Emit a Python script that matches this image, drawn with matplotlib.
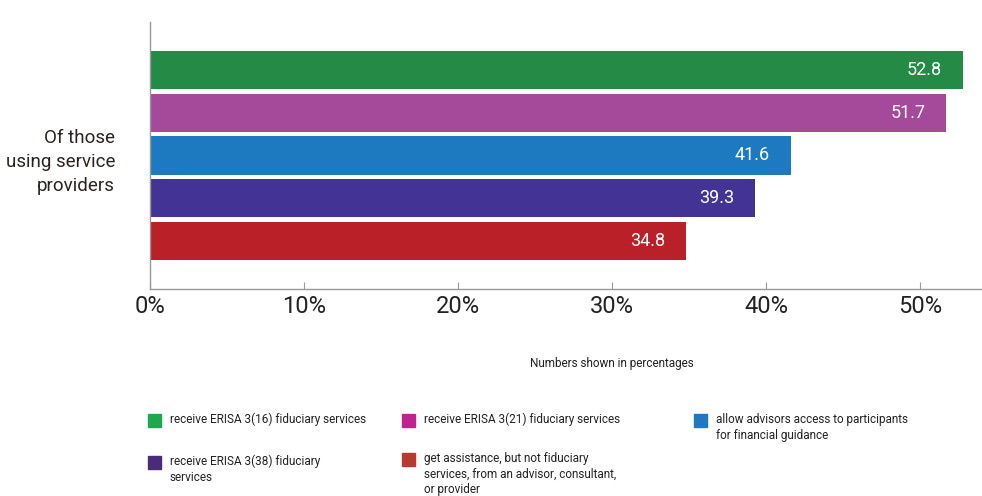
import matplotlib.pyplot as plt
from matplotlib.patches import Rectangle

plt.rcParams['font.family'] = ['Roboto', 'DejaVu Sans']

categories = [
    "receive ERISA 3(16) fiduciary services",
    "receive ERISA 3(21) fiduciary services",
    "allow advisors access to participants\nfor financial guidance",
    "receive ERISA 3(38) fiduciary\nservices",
    "get assistance, but not fiduciary\nservices, from an advisor, consultant,\nor provider",
]
values = [52.8, 51.7, 41.6, 39.3, 34.8]
bar_colors = ["#238B45", "#A5499B", "#1E7AC0", "#433394", "#BA2027"]
legend_colors = ["#1DA84D", "#BF2390", "#1F79C0", "#4B2A78", "#B63A30"]
xticks = [0, 10, 20, 30, 40, 50]
xtick_labels = ["0%", "10%", "20%", "30%", "40%", "50%"]
group_label = "Of those\nusing service\nproviders"

W, H = 982, 496
fig = plt.figure(figsize=(W / 100, H / 100), dpi=100)
ax = fig.add_axes([150 / W, 1 - 289 / H, 832 / W, 267 / H])

pos = list(range(len(values)))
ax.barh(pos, values, height=0.89, color=bar_colors, edgecolor="none")
for p, v in zip(pos, values):
    ax.annotate(f"{v}", (v, p), xytext=(-15, 0), textcoords="offset points",
                ha="right", va="center", color="white", fontsize=13)

ax.set_xlim(0, 54.03)
ax.set_ylim(4 + 1.12, -1.12)
ax.set_yticks([])
ax.set_xticks(xticks)
ax.set_xticklabels(xtick_labels, fontsize=17, color="#222222")
ax.tick_params(axis="x", direction="in", length=5, color="#999999", pad=4)
for s in ["top", "right"]:
    ax.spines[s].set_visible(False)
for s in ["left", "bottom"]:
    ax.spines[s].set_color("#999999")
    ax.spines[s].set_linewidth(1)

fig.text(115 / W, 1 - 162 / H, group_label, ha="right", va="center",
         fontsize=13.5, color="#2a2320", linespacing=1.45)

fig.text(612 / W, 1 - 363 / H, "Numbers shown in percentages", ha="center",
         va="center", fontsize=8.5, color="#222222")

# legend, laid out by hand (3 columns, 2 rows)
slots = [(148, 414), (402, 414), (694, 414), (148, 456), (402, 453)]
for (x, y), lab, c in zip(slots, categories, legend_colors):
    fig.patches.append(Rectangle((x / W, 1 - (y + 13) / H), 13 / W, 13 / H,
                                 transform=fig.transFigure, color=c))
    fig.text((x + 22) / W, 1 - (y - 1) / H, lab, ha="left", va="top",
             fontsize=8.5, color="#222222", linespacing=1.25)

fig.savefig("out.png", dpi=100)
